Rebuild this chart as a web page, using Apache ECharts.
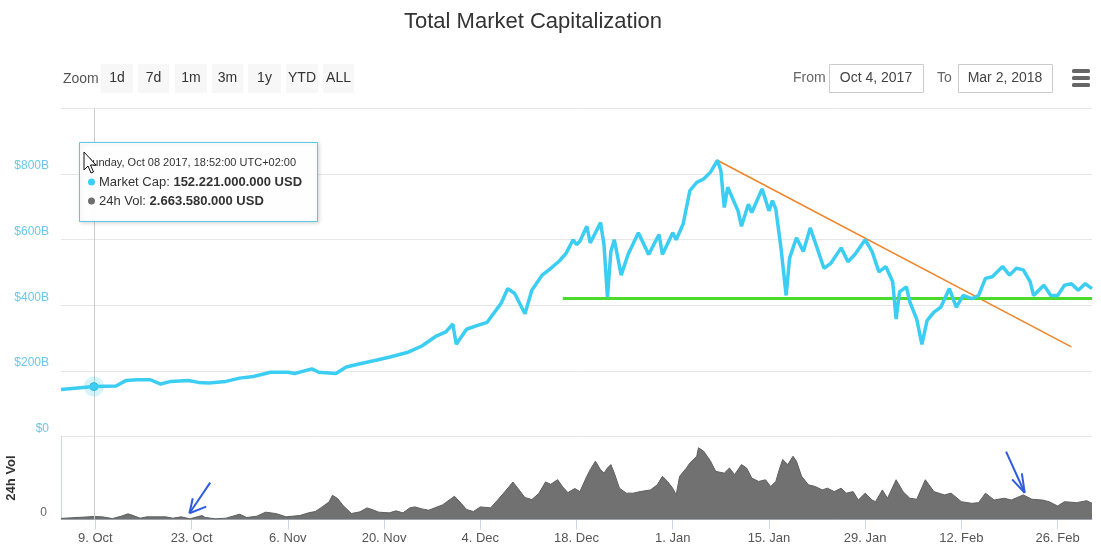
<!DOCTYPE html>
<html>
<head>
<meta charset="utf-8">
<script src="https://cdn.jsdelivr.net/npm/echarts@6/dist/echarts.min.js"></script>
<style>
  html, body { margin: 0; padding: 0; background: #ffffff; }
  #chart { width: 1101px; height: 560px; }
</style>
</head>
<body>
<div id="chart"></div>
<script>
// ---------------- DATA ----------------
const marketCapDates = [
  '2017-10-04 00:00','2017-10-06 00:00','2017-10-08 18:52','2017-10-12 00:00','2017-10-13 12:00',
  '2017-10-15 00:00','2017-10-17 00:00','2017-10-18 12:00','2017-10-20 00:00','2017-10-22 12:00',
  '2017-10-24 00:00','2017-10-25 12:00','2017-10-28 00:00','2017-10-30 00:00','2017-11-01 00:00',
  '2017-11-03 12:00','2017-11-06 00:00','2017-11-07 00:00','2017-11-09 12:00','2017-11-10 12:00',
  '2017-11-13 00:00','2017-11-14 12:00','2017-11-16 12:00','2017-11-19 00:00','2017-11-21 00:00',
  '2017-11-23 12:00','2017-11-25 12:00','2017-11-27 12:00','2017-11-29 00:00','2017-11-30 00:00',
  '2017-11-30 12:00','2017-12-02 00:00','2017-12-03 12:00','2017-12-05 00:00','2017-12-05 12:00',
  '2017-12-07 00:00','2017-12-08 00:00','2017-12-09 00:00','2017-12-10 12:00','2017-12-11 12:00',
  '2017-12-13 00:00','2017-12-14 00:00','2017-12-15 12:00','2017-12-16 12:00','2017-12-17 12:00',
  '2017-12-18 00:00','2017-12-18 12:00','2017-12-19 12:00','2017-12-20 00:00','2017-12-21 12:00',
  '2017-12-22 00:00','2017-12-22 12:00','2017-12-23 00:00','2017-12-23 12:00','2017-12-24 12:00',
  '2017-12-25 12:00','2017-12-27 00:00','2017-12-28 12:00','2017-12-30 00:00','2017-12-30 12:00',
  '2018-01-01 00:00','2018-01-01 12:00','2018-01-02 12:00','2018-01-03 12:00','2018-01-04 12:00',
  '2018-01-05 12:00','2018-01-06 12:00','2018-01-07 12:00','2018-01-08 00:00','2018-01-08 12:00',
  '2018-01-09 00:00','2018-01-10 12:00','2018-01-11 00:00','2018-01-12 00:00','2018-01-12 12:00',
  '2018-01-14 00:00','2018-01-15 00:00','2018-01-15 12:00','2018-01-16 00:00','2018-01-16 18:00',
  '2018-01-17 12:00','2018-01-18 00:00','2018-01-19 00:00','2018-01-20 00:00','2018-01-21 00:00',
  '2018-01-22 00:00','2018-01-23 00:00','2018-01-24 00:00','2018-01-25 12:00','2018-01-26 12:00',
  '2018-01-27 12:00','2018-01-29 00:00','2018-01-30 00:00','2018-01-31 00:00','2018-02-01 00:00',
  '2018-02-02 00:00','2018-02-02 12:00','2018-02-03 00:00','2018-02-04 00:00','2018-02-04 12:00',
  '2018-02-05 12:00','2018-02-06 06:00','2018-02-07 00:00','2018-02-08 00:00','2018-02-09 00:00',
  '2018-02-10 06:00','2018-02-11 06:00','2018-02-12 06:00','2018-02-13 12:00','2018-02-14 12:00',
  '2018-02-15 12:00','2018-02-16 12:00','2018-02-18 00:00','2018-02-19 00:00','2018-02-20 00:00',
  '2018-02-21 00:00','2018-02-22 00:00','2018-02-22 12:00','2018-02-24 00:00','2018-02-25 00:00',
  '2018-02-26 00:00','2018-02-27 00:00','2018-02-28 00:00','2018-03-01 00:00','2018-03-02 00:00',
  '2018-03-03 00:00'
];
// total market capitalization, billions USD
const marketCapValues = [
  143, 147, 152.2, 154, 171,
  173, 173, 160, 168, 171,
  165, 163, 168, 178, 183,
  196, 196, 192, 206, 196,
  192, 212, 222, 233, 243,
  257, 276, 305, 319, 343,
  281, 327, 338, 348, 363,
  405, 451, 436, 374, 446,
  492, 508, 535, 559, 600,
  585, 595, 641, 590, 652,
  585, 425, 564, 600, 492,
  555, 621, 555, 616, 555,
  621, 600, 647, 750, 775,
  785, 806, 842, 811, 698,
  760, 688, 641, 708, 683,
  755, 688, 719, 693, 575,
  430, 544, 606, 564, 636,
  575, 513, 528, 575, 533,
  555, 600, 564, 502, 518,
  472, 358, 441, 456, 410,
  358, 281, 353, 379, 394,
  451, 394, 430, 420, 430,
  482, 487, 518, 492, 513,
  508, 472, 430, 461, 430,
  430, 461, 466, 446, 466,
  451
];

const volumeDates = [
  '2017-10-04 00:00','2017-10-08 18:52','2017-10-09 00:00','2017-10-10 00:00','2017-10-11 12:00',
  '2017-10-12 18:00','2017-10-13 18:00','2017-10-14 12:00','2017-10-15 12:00','2017-10-16 12:00',
  '2017-10-19 06:00','2017-10-20 06:00','2017-10-21 12:00','2017-10-22 18:00','2017-10-24 12:00',
  '2017-10-25 00:00','2017-10-26 12:00','2017-10-28 00:00','2017-10-30 00:00','2017-10-31 00:00',
  '2017-11-01 12:00','2017-11-02 18:00','2017-11-04 06:00','2017-11-05 18:00','2017-11-07 18:00',
  '2017-11-09 00:00','2017-11-10 00:00','2017-11-11 00:00','2017-11-12 00:00','2017-11-12 12:00',
  '2017-11-13 06:00','2017-11-14 00:00','2017-11-15 06:00','2017-11-16 12:00','2017-11-17 12:00',
  '2017-11-18 06:00','2017-11-19 06:00','2017-11-20 18:00','2017-11-21 18:00','2017-11-22 18:00',
  '2017-11-23 18:00','2017-11-24 12:00','2017-11-25 12:00','2017-11-26 12:00','2017-11-27 12:00',
  '2017-11-28 12:00','2017-11-30 06:00','2017-12-01 06:00','2017-12-02 00:00','2017-12-03 00:00',
  '2017-12-04 00:00','2017-12-05 12:00','2017-12-06 12:00','2017-12-07 18:00','2017-12-08 18:00',
  '2017-12-09 12:00','2017-12-10 12:00','2017-12-11 12:00','2017-12-12 12:00','2017-12-13 12:00',
  '2017-12-14 06:00','2017-12-15 06:00','2017-12-16 00:00','2017-12-16 18:00','2017-12-17 18:00',
  '2017-12-18 12:00','2017-12-19 12:00','2017-12-20 00:00','2017-12-20 18:00','2017-12-21 12:00',
  '2017-12-22 00:00','2017-12-22 12:00','2017-12-23 00:00','2017-12-23 12:00','2017-12-24 06:00',
  '2017-12-25 06:00','2017-12-26 06:00','2017-12-27 06:00','2017-12-28 18:00','2017-12-29 18:00',
  '2017-12-30 12:00','2017-12-31 06:00','2018-01-01 00:00','2018-01-01 12:00','2018-01-02 00:00',
  '2018-01-03 00:00','2018-01-03 12:00','2018-01-04 12:00','2018-01-04 18:00','2018-01-05 12:00',
  '2018-01-06 12:00','2018-01-07 06:00','2018-01-08 12:00','2018-01-09 06:00','2018-01-10 00:00',
  '2018-01-11 00:00','2018-01-11 18:00','2018-01-12 12:00','2018-01-13 12:00','2018-01-14 12:00',
  '2018-01-15 06:00','2018-01-16 00:00','2018-01-16 12:00','2018-01-17 00:00','2018-01-17 18:00',
  '2018-01-18 12:00','2018-01-19 00:00','2018-01-19 18:00','2018-01-20 18:00','2018-01-21 18:00',
  '2018-01-22 18:00','2018-01-23 12:00','2018-01-24 12:00','2018-01-25 12:00','2018-01-26 06:00',
  '2018-01-27 06:00','2018-01-28 00:00','2018-01-29 00:00','2018-01-30 00:00','2018-01-30 12:00',
  '2018-01-31 12:00','2018-02-01 06:00','2018-02-02 12:00','2018-02-03 12:00','2018-02-04 12:00',
  '2018-02-05 12:00','2018-02-06 18:00','2018-02-08 00:00','2018-02-09 12:00','2018-02-10 12:00',
  '2018-02-12 00:00','2018-02-13 12:00','2018-02-14 12:00','2018-02-15 12:00','2018-02-16 18:00',
  '2018-02-18 06:00','2018-02-19 06:00','2018-02-21 00:00','2018-02-22 06:00','2018-02-23 18:00',
  '2018-02-24 18:00','2018-02-26 00:00','2018-02-27 00:00','2018-02-28 18:00','2018-03-02 06:00',
  '2018-03-03 00:00'
];
// 24h volume, billions USD
const volumeValues = [
  1.0, 2.66, 1.5, 2.4, 0.8,
  3.0, 5.1, 3.6, 1.2, 2.4,
  2.4, 1.2, 2.4, 0.6, 3.6,
  1.8, 0.6, 1.2, 4.8, 1.8,
  3.0, 6.6, 5.4, 2.4, 3.6,
  6.0, 7.2, 11.4, 15.9, 21.9,
  18.9, 12.9, 5.4, 6.9, 10.5,
  9.0, 6.6, 6.0, 7.8, 6.0,
  10.5, 11.4, 9.6, 8.4, 10.8,
  13.2, 21.0, 14.4, 9.0, 7.2,
  11.4, 10.5, 17.4, 26.4, 33.9,
  27.9, 19.8, 18.0, 23.4, 33.9,
  31.8, 36.0, 29.4, 24.3, 28.0,
  25.2, 39.0, 45.0, 52.7, 45.0,
  41.9, 46.5, 49.6, 41.9, 28.3,
  23.8, 23.8, 25.2, 26.7, 31.3,
  39.0, 34.4, 28.3, 22.2, 39.0,
  46.5, 51.1, 57.2, 64.8, 61.7,
  52.7, 43.5, 41.9, 46.5, 40.5,
  49.6, 46.5, 37.4, 34.4, 35.9,
  29.8, 34.4, 45.0, 54.2, 49.6,
  57.2, 52.7, 39.0, 31.3, 29.8,
  26.7, 28.3, 25.2, 28.3, 23.8,
  25.2, 17.6, 23.8, 17.6, 16.1,
  26.7, 19.2, 35.9, 25.2, 19.2,
  18.3, 35.9, 25.2, 22.2, 23.8,
  16.1, 14.6, 15.2, 23.8, 17.6,
  19.2, 17.6, 22.2, 18.3, 17.6,
  16.1, 12.2, 16.1, 15.2, 17.0,
  14.6
];

const xTickDates = ['2017-10-09','2017-10-23','2017-11-06','2017-11-20','2017-12-04','2017-12-18',
                    '2018-01-01','2018-01-15','2018-01-29','2018-02-12','2018-02-26'];
const xTickLabels = ['9. Oct','23. Oct','6. Nov','20. Nov','4. Dec','18. Dec',
                     '1. Jan','15. Jan','29. Jan','12. Feb','26. Feb'];

// hovered point (crosshair)
const hoverDate = '2017-10-08 18:52';
const hoverCap = 152.2;

// drawn annotations (data coordinates)
const trendLine = [['2018-01-07 10:00', 843], ['2018-02-28 00:00', 273]];
const supportLine = [['2017-12-16 00:00', 421], ['2018-03-03 00:00', 421]];
const arrow1 = { tail: ['2017-10-25 17:00', 33.3], tip: ['2017-10-22 16:30', 5.6],
                 armA: ['2017-10-23 04:00', 19.2], armB: ['2017-10-25 03:00', 11.6] };
const arrow2 = { tail: ['2018-02-18 12:00', 61.3], tip: ['2018-02-21 05:00', 24.2],
                 armA: ['2018-02-19 09:00', 36.3], armB: ['2018-02-20 19:00', 41.7] };

// ---------------- CHART ----------------
const chart = echarts.init(document.getElementById('chart'), null, { renderer: 'canvas' });
const FONT = 'Liberation Sans, Arial, sans-serif';

const T = s => +echarts.time.parse(s);
const tickTimes = xTickDates.map(T);
const labelMap = {};
tickTimes.forEach((t, i) => { labelMap[t] = xTickLabels[i]; });

const xMin = T('2017-10-04 00:00');
const xMax = T('2018-03-03 00:00');
const hoverT = T(hoverDate);

const capData = marketCapDates.map((d, i) => [T(d), marketCapValues[i]]);
const volData = volumeDates.map((d, i) => [T(d), volumeValues[i]]);

function seg(a, b, style) {
  return [{ coord: [T(a[0]), a[1]], lineStyle: style }, { coord: [T(b[0]), b[1]] }];
}
const blue = { color: '#2f5be0', width: 2, type: 'solid' };
function arrowSegs(a) {
  return [seg(a.tail, a.tip, blue), seg(a.tip, a.armA, blue), seg(a.tip, a.armB, blue)];
}

const toolbarButtons = [
  { t: '1d', x: 101, w: 32 }, { t: '7d', x: 138, w: 31 }, { t: '1m', x: 175, w: 32 },
  { t: '3m', x: 212, w: 31 }, { t: '1y', x: 248, w: 33 }, { t: 'YTD', x: 286, w: 32 },
  { t: 'ALL', x: 323, w: 31 }
];

const graphics = [];
graphics.push({ type: 'text', x: 533, y: 22,
  style: { text: 'Total Market Capitalization', fill: '#333', font: '22px ' + FONT, align: 'center', verticalAlign: 'middle' } });
graphics.push({ type: 'text', x: 63, y: 79, style: { text: 'Zoom', fill: '#555', font: '14px ' + FONT, verticalAlign: 'middle' } });
toolbarButtons.forEach(b => {
  graphics.push({ type: 'rect', shape: { x: b.x, y: 64, width: b.w, height: 29 }, style: { fill: '#f7f7f7' } });
  graphics.push({ type: 'text', x: b.x + b.w / 2, y: 78.5,
    style: { text: b.t, fill: '#333', font: '14px ' + FONT, align: 'center', verticalAlign: 'middle' } });
});
graphics.push({ type: 'text', x: 793, y: 78, style: { text: 'From', fill: '#666', font: '14px ' + FONT, verticalAlign: 'middle' } });
graphics.push({ type: 'rect', shape: { x: 829.5, y: 64.5, width: 94, height: 28 }, style: { fill: '#fff', stroke: '#cccccc', lineWidth: 1 } });
graphics.push({ type: 'text', x: 876, y: 78, style: { text: 'Oct 4, 2017', fill: '#444', font: '14px ' + FONT, align: 'center', verticalAlign: 'middle' } });
graphics.push({ type: 'text', x: 937, y: 78, style: { text: 'To', fill: '#666', font: '14px ' + FONT, verticalAlign: 'middle' } });
graphics.push({ type: 'rect', shape: { x: 958.5, y: 64.5, width: 94, height: 28 }, style: { fill: '#fff', stroke: '#cccccc', lineWidth: 1 } });
graphics.push({ type: 'text', x: 1005, y: 78, style: { text: 'Mar 2, 2018', fill: '#444', font: '14px ' + FONT, align: 'center', verticalAlign: 'middle' } });
[69, 76, 83].forEach(y => {
  graphics.push({ type: 'rect', shape: { x: 1072, y: y, width: 18, height: 4, r: 1.5 }, style: { fill: '#666' } });
});

// static tooltip
graphics.push({ type: 'rect', z: 100, shape: { x: 79.5, y: 142.5, width: 238, height: 79 },
  style: { fill: 'rgba(255,255,255,0.96)', stroke: '#5bc8e6', lineWidth: 1,
           shadowBlur: 4, shadowOffsetX: 1, shadowOffsetY: 1, shadowColor: 'rgba(0,0,0,0.15)' } });
graphics.push({ type: 'text', z: 101, x: 85, y: 163,
  style: { text: 'Sunday, Oct 08 2017, 18:52:00 UTC+02:00', fill: '#333', font: '11px ' + FONT, verticalAlign: 'middle' } });
graphics.push({ type: 'circle', z: 101, shape: { cx: 91.5, cy: 182, r: 3.5 }, style: { fill: '#3ccdf3' } });
graphics.push({ type: 'text', z: 101, x: 99, y: 182,
  style: { text: '{n|Market Cap: }{b|152.221.000.000 USD}', verticalAlign: 'middle',
    rich: { n: { fill: '#333', font: '13px ' + FONT }, b: { fill: '#333', font: 'bold 13px ' + FONT } } } });
graphics.push({ type: 'circle', z: 101, shape: { cx: 91.5, cy: 201, r: 3.5 }, style: { fill: '#6e6e6e' } });
graphics.push({ type: 'text', z: 101, x: 99, y: 201,
  style: { text: '{n|24h Vol: }{b|2.663.580.000 USD}', verticalAlign: 'middle',
    rich: { n: { fill: '#333', font: '13px ' + FONT }, b: { fill: '#333', font: 'bold 13px ' + FONT } } } });
// mouse cursor
graphics.push({ type: 'polygon', z: 102,
  shape: { points: [[84, 152], [84, 170], [88, 166], [91, 173], [93.5, 172], [90.5, 165], [96, 165]] },
  style: { fill: '#ffffff', stroke: '#111', lineWidth: 1 } });

const option = {
  backgroundColor: '#ffffff',
  animation: false,
  graphic: graphics,
  grid: [
    { left: 61, right: 9, top: 108.5, height: 328, outerBoundsMode: 'none', containLabel: false },
    { left: 61, right: 9, top: 436.5, height: 83, outerBoundsMode: 'none', containLabel: false }
  ],
  xAxis: [
    { type: 'value', gridIndex: 0, min: xMin, max: xMax, show: false, splitLine: { show: false } },
    { type: 'value', gridIndex: 1, min: xMin, max: xMax,
      axisLine: { show: true, lineStyle: { color: '#ccd6eb' } },
      axisTick: { show: true, customValues: tickTimes, length: 10, lineStyle: { color: '#ccd6eb' } },
      axisLabel: { customValues: tickTimes, formatter: v => labelMap[v] || '',
        color: '#555', fontFamily: FONT, fontSize: 13, margin: 12, hideOverlap: false },
      splitLine: { show: false } }
  ],
  yAxis: [
    { type: 'value', gridIndex: 0, min: 0, max: 1000, interval: 200,
      axisLine: { show: false }, axisTick: { show: false },
      axisLabel: { formatter: v => v === 1000 ? '' : (v === 0 ? '$0' : '$' + v + 'B'),
        color: '#6cc7e8', fontFamily: FONT, fontSize: 12, margin: 12, verticalAlign: 'bottom', padding: [0, 0, 2, 0] },
      splitLine: { lineStyle: { color: '#e6e6e6' } } },
    { type: 'value', gridIndex: 1, min: 0, max: 75,
      name: '24h Vol', nameLocation: 'middle', nameRotate: 90, nameGap: 43,
      nameTextStyle: { fontFamily: FONT, fontSize: 13, fontWeight: 'bold', color: '#333' },
      axisLine: { show: true, lineStyle: { color: '#ccd6eb' } }, axisTick: { show: false },
      axisLabel: { customValues: [0], formatter: v => v === 0 ? '0' : '',
        color: '#666', fontFamily: FONT, fontSize: 12, margin: 14, verticalAlign: 'bottom', padding: [0, 0, 1, 0] },
      splitLine: { show: false } }
  ],
  series: [
    {
      name: 'Market Cap', type: 'line', xAxisIndex: 0, yAxisIndex: 0,
      data: capData, showSymbol: false, symbol: 'none', smooth: false,
      lineStyle: { color: '#3ccdf3', width: 3.5 }, z: 5,
      markLine: {
        silent: true, symbol: ['none', 'none'], label: { show: false }, animation: false,
        data: [
          [{ coord: [hoverT, 0], lineStyle: { color: '#cccccc', width: 1, type: 'solid' } }, { coord: [hoverT, 1000] }],
          seg(trendLine[0], trendLine[1], { color: '#f08428', width: 1.5, type: 'solid' }),
          seg(supportLine[0], supportLine[1], { color: '#4cdb2c', width: 3, type: 'solid' })
        ]
      },
      markPoint: {
        silent: true, animation: false, label: { show: false },
        data: [
          { coord: [hoverT, hoverCap], symbol: 'circle', symbolSize: 20, itemStyle: { color: 'rgba(60,205,243,0.22)' } },
          { coord: [hoverT, hoverCap], symbol: 'circle', symbolSize: 8, itemStyle: { color: '#3ccdf3', borderColor: '#2fb6dc', borderWidth: 1 } }
        ]
      }
    },
    {
      name: '24h Vol', type: 'line', xAxisIndex: 1, yAxisIndex: 1,
      data: volData, showSymbol: false, symbol: 'none',
      lineStyle: { color: '#5f5f5f', width: 1 },
      areaStyle: { color: '#717171', opacity: 1 }, z: 3,
      markLine: {
        silent: true, symbol: ['none', 'none'], label: { show: false }, animation: false,
        data: [
          [{ coord: [hoverT, 0], lineStyle: { color: '#cccccc', width: 1, type: 'solid' } }, { coord: [hoverT, 75] }]
        ].concat(arrowSegs(arrow1), arrowSegs(arrow2))
      }
    }
  ]
};
chart.setOption(option);
</script>
</body>
</html>
